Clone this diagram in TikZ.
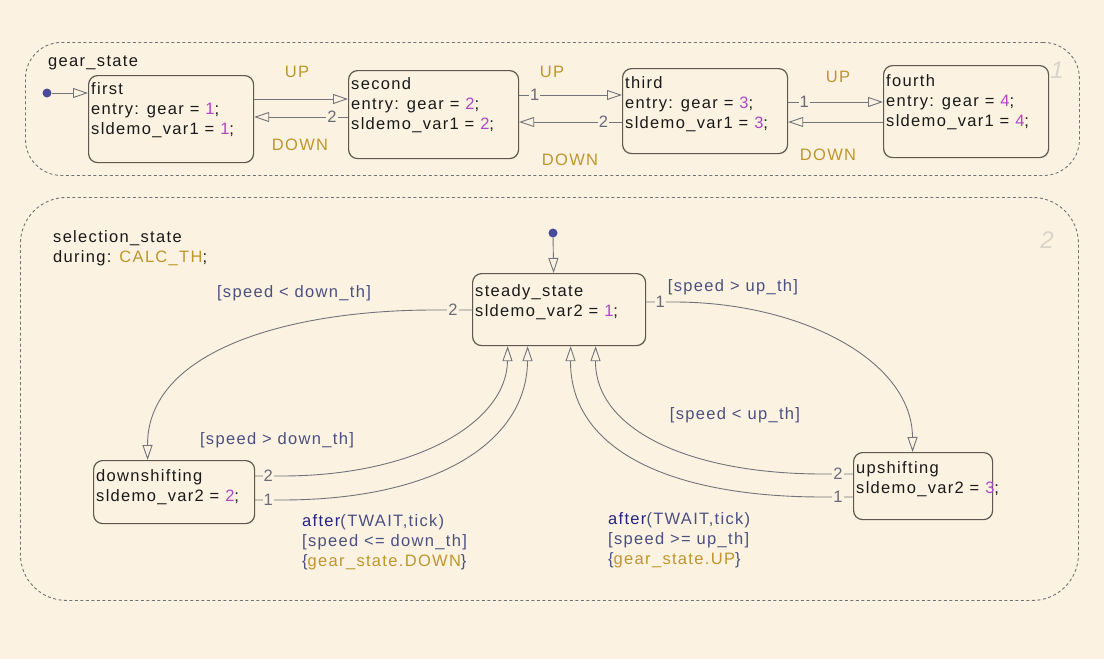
\documentclass[tikz,border=0pt]{standalone}
\usepackage{fontspec}
\setmainfont{Liberation Sans}[LetterSpace=8.0]
\usetikzlibrary{arrows.meta,calc}
\definecolor{bg}{RGB}{251,242,225}
\definecolor{ink}{RGB}{25,25,25}
\definecolor{boxc}{RGB}{95,88,78}
\definecolor{linec}{RGB}{115,115,122}
\definecolor{numc}{RGB}{105,105,120}
\definecolor{purp}{RGB}{175,70,200}
\definecolor{gold}{RGB}{190,150,45}
\definecolor{cond}{RGB}{75,80,130}
\definecolor{aftc}{RGB}{35,35,130}
\definecolor{dashc}{RGB}{115,115,115}
\definecolor{wm}{RGB}{218,212,200}
\definecolor{dotc}{RGB}{75,75,155}
\newcommand{\pv}[1]{\textcolor{purp}{#1}}
\newcommand{\gd}[1]{\textcolor{gold}{#1}}
\newcommand{\fsz}{\fontsize{16.5}{20}\selectfont}
\tikzset{
  sbox/.style={draw=boxc, line width=1.2pt, rounded corners=9pt, inner sep=0pt, anchor=north west},
  superst/.style={draw=dashc, line width=0.9pt, dash pattern=on 3pt off 2.5pt, inner sep=0pt, anchor=north west},
  txt/.style={inner sep=0pt, font=\fsz, text=ink, align=left},
  evt/.style={inner sep=0pt, font=\fsz, text=gold},
  cnd/.style={inner sep=0pt, font=\fsz, text=cond, align=left},
  num/.style={inner sep=1pt, font=\fsz, text=numc, fill=bg},
  trans/.style={draw=linec, line width=0.9pt, -{Triangle[open, length=15pt, width=10pt]}},
  initdot/.style={circle, fill=dotc, draw=none, minimum size=9pt, inner sep=0pt},
  wmark/.style={inner sep=0pt, font=\fontsize{24}{24}\selectfont\itshape, text=wm},
}
\begin{document}
\begin{tikzpicture}[x=1pt,y=-1pt]
\fill[bg] (0,0) rectangle (1104,659);
\useasboundingbox (0,0) rectangle (1104,659);

% superstates
\node[superst, rounded corners=36pt, minimum width=1054pt, minimum height=133pt] (gear) at (25,42) {};
\node[superst, rounded corners=46pt, minimum width=1058pt, minimum height=403pt] (sel) at (20,197) {};
\node[wmark] (w1) at (1057,70) {1};
\node[wmark] (w2) at (1047,240) {2};

% gear_state
\node[txt, anchor=west] (gearlbl) at (48,63) {gear\_state};
\node[sbox, minimum width=165pt, minimum height=87pt] (first) at (88,75) {};
\node[sbox, minimum width=170pt, minimum height=88pt] (second) at (348,70) {};
\node[sbox, minimum width=165pt, minimum height=85pt] (third) at (622,68) {};
\node[sbox, minimum width=165pt, minimum height=92pt] (fourth) at (883,65) {};
\node[txt, anchor=north west] (firstt) at ([shift={(3pt,-7pt)}]first.north west) {first\\entry: gear = \pv{1};\\sldemo\_var1 = \pv{1};};
\node[txt, anchor=north west] (secondt) at ([shift={(3pt,-7pt)}]second.north west) {second\\entry: gear = \pv{2};\\sldemo\_var1 = \pv{2};};
\node[txt, anchor=north west] (thirdt) at ([shift={(3pt,-8pt)}]third.north west) {third\\entry: gear = \pv{3};\\sldemo\_var1 = \pv{3};};
\node[txt, anchor=north west] (fourtht) at ([shift={(3pt,-9pt)}]fourth.north west) {fourth\\entry: gear = \pv{4};\\sldemo\_var1 = \pv{4};};

\node[initdot] (d1) at (47,93) {};
\draw[trans] (d1) -- ([yshift=-18pt]first.north west);

\draw[trans] ([yshift=-24pt]first.north east) -- ([yshift=-29pt]second.north west);
\draw[trans] ([yshift=-47pt]second.north west) -- node[num, pos=0.17] (n21) {2} ([yshift=-42pt]first.north east);
\draw[trans] ([yshift=-25pt]second.north east) -- node[num, pos=0.15] (n23) {1} ([yshift=-27pt]third.north west);
\draw[trans] ([yshift=-54pt]third.north west) -- node[num, pos=0.18] (n32) {2} ([yshift=-52pt]second.north east);
\draw[trans] ([yshift=-34pt]third.north east) -- node[num, pos=0.17] (n34) {1} ([yshift=-37pt]fourth.north west);
\draw[trans] ([yshift=-57pt]fourth.north west) -- ([yshift=-54pt]third.north east);

\node[evt] (up1) at (297,72) {UP};
\node[evt] (dn1) at (300,145) {DOWN};
\node[evt] (up2) at (552,72) {UP};
\node[evt] (dn2) at (570,160) {DOWN};
\node[evt] (up3) at (838,77) {UP};
\node[evt] (dn3) at (828,155) {DOWN};

% selection_state
\node[txt, anchor=north west] (sellbl) at (53,230) {selection\_state\\during: \gd{CALC\_TH};};
\node[sbox, minimum width=173pt, minimum height=72pt] (steady) at (472,273) {};
\node[sbox, minimum width=161pt, minimum height=63pt] (ds) at (93,460) {};
\node[sbox, minimum width=139pt, minimum height=67pt] (us) at (853,452) {};
\node[txt, anchor=north west] (steadyt) at ([shift={(3pt,-11pt)}]steady.north west) {steady\_state\\sldemo\_var2 = \pv{1};};
\node[txt, anchor=north west] (dst) at ([shift={(3pt,-9pt)}]ds.north west) {downshifting\\sldemo\_var2 = \pv{2};};
\node[txt, anchor=north west] (ust) at ([shift={(3pt,-9pt)}]us.north west) {upshifting\\sldemo\_var2 = \pv{3};};

\node[initdot] (d2) at (553,233) {};
\draw[trans] (d2) -- ([xshift=-5.5pt]steady.north);

\draw[trans] ([yshift=-37pt]steady.north west) -- node[num, pos=0.5] (ns2) {2} ++(-38,0)
  .. controls (290,310) and (147,350) .. ([xshift=-26.5pt]ds.north);
\draw[trans] ([yshift=-29pt]steady.north east) -- node[num, pos=0.5] (ns1) {1} ++(28,0)
  .. controls (800,302) and (912,360) .. ([xshift=-10.5pt]us.north);
\draw[trans] ([yshift=-16pt]ds.north east) -- node[num, pos=0.5] (nd2) {2} ++(26,0)
  .. controls (420,476) and (507,420) .. ([xshift=-51.5pt]steady.south);
\draw[trans] ([yshift=-40pt]ds.north east) -- node[num, pos=0.5] (nd1) {1} ++(26,0)
  .. controls (440,500) and (527,440) .. ([xshift=-31.5pt]steady.south);
\draw[trans] ([yshift=-22pt]us.north west) -- node[num, pos=0.5] (nu2) {2} ++(-30,0)
  .. controls (690,474) and (595,430) .. ([xshift=36.5pt]steady.south);
\draw[trans] ([yshift=-45pt]us.north west) -- node[num, pos=0.5] (nu1) {1} ++(-30,0)
  .. controls (670,497) and (570,450) .. ([xshift=11.5pt]steady.south);

\node[cnd] (c1) at (294,293) {[speed < down\_th]};
\node[cnd] (c2) at (277,440) {[speed > down\_th]};
\node[cnd] (c3) at (733,287) {[speed > up\_th]};
\node[cnd] (c4) at (735,415) {[speed < up\_th]};
\node[cnd, anchor=north west] (a1) at (302,514) {\textcolor{aftc}{after}(TWAIT,tick)\\{[}speed <= down\_th{]}\\\{\gd{gear\_state.DOWN}\}};
\node[cnd, anchor=north west] (a2) at (608,512) {\textcolor{aftc}{after}(TWAIT,tick)\\{[}speed >= up\_th{]}\\\{\gd{gear\_state.UP}\}};
\end{tikzpicture}
\end{document}
